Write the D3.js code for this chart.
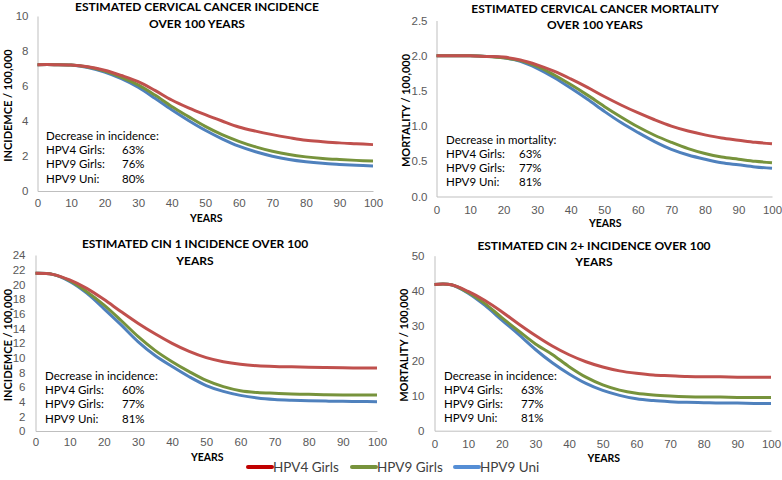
<!DOCTYPE html>
<html>
<head>
<meta charset="utf-8">
<script src="https://cdn.jsdelivr.net/npm/d3@7"></script>
<style>
  body { margin: 0; background: #fff; }
  svg { display: block; font-family: Lato, "Open Sans", sans-serif; }
  .tick text { fill: #595959; font-size: 11.5px; }
  .domain { stroke: #bfbfbf; }
</style>
</head>
<body>
<svg id="chart"></svg>
<script>
let width = 782
let height = 480

let years = [0, 5, 10, 15, 20, 25, 30, 35, 40, 45, 50, 55, 60, 65, 70, 75, 80, 85, 90, 95, 100]
let seriesNames = ['HPV4 Girls', 'HPV9 Girls', 'HPV9 Uni']
let xTicks = [0, 10, 20, 30, 40, 50, 60, 70, 80, 90, 100]

// cervical cancer incidence
let ccIncHpv4 = [7.22, 7.22, 7.2, 7.1, 6.9, 6.6, 6.25, 5.75, 5.2, 4.75, 4.36, 4.0, 3.66, 3.42, 3.22, 3.05, 2.9, 2.82, 2.75, 2.7, 2.65]
let ccIncHpv9 = [7.22, 7.22, 7.2, 7.08, 6.85, 6.5, 6.06, 5.48, 4.83, 4.25, 3.69, 3.22, 2.84, 2.52, 2.27, 2.08, 1.95, 1.86, 1.8, 1.75, 1.71]
let ccIncUni = [7.22, 7.22, 7.2, 7.06, 6.8, 6.42, 5.93, 5.3, 4.64, 4.03, 3.47, 2.98, 2.56, 2.24, 1.99, 1.8, 1.67, 1.58, 1.52, 1.47, 1.43]
let ccIncTicks = [0, 2, 4, 6, 8, 10]
let ccIncPct = ['63%', '76%', '80%']

// cervical cancer mortality
let ccMortHpv4 = [2.0, 2.0, 2.0, 1.99, 1.98, 1.94, 1.87, 1.78, 1.67, 1.55, 1.42, 1.3, 1.19, 1.09, 1.0, 0.93, 0.875, 0.83, 0.8, 0.77, 0.75]
let ccMortHpv9 = [2.0, 2.0, 2.0, 1.99, 1.97, 1.93, 1.85, 1.73, 1.59, 1.44, 1.28, 1.13, 0.99, 0.87, 0.77, 0.68, 0.61, 0.56, 0.53, 0.5, 0.48]
let ccMortUni = [2.0, 2.0, 2.0, 1.99, 1.97, 1.92, 1.82, 1.69, 1.54, 1.38, 1.21, 1.05, 0.91, 0.78, 0.67, 0.59, 0.53, 0.48, 0.45, 0.42, 0.4]
let ccMortTicks = [0, 0.5, 1.0, 1.5, 2.0, 2.5]
let ccMortPct = ['63%', '77%', '81%']

// CIN 1 incidence
let cin1Hpv4 = [21.5, 21.36, 20.6, 19.45, 17.95, 16.3, 14.7, 13.25, 11.95, 10.85, 10.0, 9.45, 9.1, 8.9, 8.8, 8.75, 8.7, 8.65, 8.62, 8.6, 8.6]
let cin1Hpv9 = [21.5, 21.36, 20.5, 19.0, 17.2, 15.1, 12.9, 11.0, 9.45, 8.1, 6.9, 6.05, 5.5, 5.25, 5.14, 5.05, 5.0, 4.95, 4.92, 4.9, 4.9]
let cin1Uni = [21.5, 21.36, 20.4, 18.8, 16.7, 14.5, 12.2, 10.3, 8.8, 7.4, 6.2, 5.4, 4.86, 4.5, 4.3, 4.2, 4.14, 4.08, 4.05, 4.02, 4.0]
let cin1Ticks = [0, 2, 4, 6, 8, 10, 12, 14, 16, 18, 20, 22, 24]
let cin1Pct = ['60%', '77%', '81%']

// CIN 2+ incidence
let cin2Hpv4 = [41.8, 41.7, 39.8, 37.2, 34.0, 30.5, 27.2, 24.2, 21.7, 19.7, 18.2, 17.1, 16.4, 15.9, 15.7, 15.5, 15.4, 15.4, 15.3, 15.3, 15.3]
let cin2Hpv9 = [41.8, 41.7, 39.5, 36.3, 32.3, 28.5, 24.8, 21.8, 18.3, 15.3, 13.1, 11.6, 10.7, 10.2, 9.9, 9.7, 9.6, 9.6, 9.5, 9.5, 9.5]
let cin2Uni = [41.8, 41.7, 39.3, 35.8, 31.6, 27.5, 23.2, 19.4, 16.2, 13.5, 11.5, 10.1, 9.1, 8.6, 8.3, 8.1, 8.0, 7.9, 7.9, 7.8, 7.8]
let cin2Ticks = [0, 10, 20, 30, 40, 50]
let cin2Pct = ['63%', '77%', '81%']

let lineColors = ['#c0504d', '#77933c', '#4f81bd']
let legendColors = ['#c00000', '#77933c', '#558ed5']

let panels = [
    { title: ['ESTIMATED CERVICAL CANCER INCIDENCE', 'OVER 100 YEARS'], yLabel: 'INCIDEMCE / 100,000',
      series: [ccIncHpv4, ccIncHpv9, ccIncUni], ticks: ccIncTicks, fmt: d3.format('d'),
      note: 'Decrease in incidence:', pct: ccIncPct,
      left: 37.5, right: 373, top: 16, bottom: 191, titleY: 11, titleX: 197, yearsY: 222, xLabY: 208,
      yLabX: 12, noteX: 46, noteY: 140, pctX: 122, yPad: 9 },
    { title: ['ESTIMATED CERVICAL CANCER MORTALITY', 'OVER 100 YEARS'], yLabel: 'MORTALITY / 100,000',
      series: [ccMortHpv4, ccMortHpv9, ccMortUni], ticks: ccMortTicks, fmt: d3.format('.1f'),
      note: 'Decrease in mortality:', pct: ccMortPct,
      left: 436.5, right: 772, top: 20.5, bottom: 196.5, titleY: 12.5, titleX: 595, yearsY: 226.5, xLabY: 214.5,
      yLabX: 410, noteX: 446, noteY: 143.5, pctX: 519, yPad: 9 },
    { title: ['ESTIMATED CIN 1 INCIDENCE OVER 100', 'YEARS'], yLabel: 'INCIDEMCE / 100,000',
      series: [cin1Hpv4, cin1Hpv9, cin1Uni], ticks: cin1Ticks, fmt: d3.format('d'),
      note: 'Decrease in incidence:', pct: cin1Pct,
      left: 35.5, right: 377, top: 255, bottom: 431, titleY: 248, titleX: 195, yearsY: 461, xLabY: 447,
      yLabX: 12, noteX: 45, noteY: 380, pctX: 122, yPad: 10 },
    { title: ['ESTIMATED CIN 2+ INCIDENCE OVER 100', 'YEARS'], yLabel: 'MORTALITY / 100,000',
      series: [cin2Hpv4, cin2Hpv9, cin2Uni], ticks: cin2Ticks, fmt: d3.format('d'),
      note: 'Decrease in incidence:', pct: cin2Pct,
      left: 434.5, right: 771, top: 255.7, bottom: 430.7, titleY: 249.5, titleX: 594, yearsY: 462, xLabY: 449,
      yLabX: 408, noteX: 444, noteY: 379.5, pctX: 521, yPad: 10 }
]

let svg = d3.select('#chart')
    .attr('width', width)
    .attr('height', height)

let drawPanel = (p) => {
    let g = svg.append('g')
    let xScale = d3.scaleLinear().domain([0, 100]).range([p.left, p.right])
    let yScale = d3.scaleLinear().domain([0, d3.max(p.ticks)]).range([p.bottom, p.top])

    let yAxis = d3.axisLeft(yScale)
        .tickValues(p.ticks)
        .tickFormat(p.fmt)
        .tickSize(0)
        .tickPadding(p.yPad)
    g.append('g')
        .attr('transform', 'translate(' + p.left + ',0)')
        .call(yAxis)

    let xAxis = d3.axisBottom(xScale)
        .tickValues(xTicks)
        .tickSize(0)
        .tickPadding(p.xLabY - p.bottom - 9)
    g.append('g')
        .attr('transform', 'translate(0,' + p.bottom + ')')
        .call(xAxis)

    let line = d3.line()
        .x((d, i) => xScale(years[i]))
        .y((d) => yScale(d))
        .curve(d3.curveCatmullRom.alpha(0.5))

    // draw HPV9 uni first so red ends on top
    ;[2, 1, 0].forEach((k) => {
        g.append('path')
            .datum(p.series[k])
            .attr('d', line)
            .attr('fill', 'none')
            .attr('stroke', lineColors[k])
            .attr('stroke-width', 3)
            .attr('stroke-linejoin', 'round')
    })

    g.selectAll('.title')
        .data(p.title)
        .enter()
        .append('text')
        .attr('x', p.titleX)
        .attr('y', (d, i) => p.titleY + i * 16.8)
        .attr('text-anchor', 'middle')
        .attr('font-weight', 'bold')
        .attr('font-size', 12)
        .attr('fill', '#000')
        .text((d) => d)

    g.append('text')
        .attr('transform', 'translate(' + p.yLabX + ',' + ((p.top + p.bottom) / 2 + 2) + ') rotate(-90)')
        .attr('text-anchor', 'middle')
        .attr('font-weight', 'bold')
        .attr('font-size', 11)
        .attr('fill', '#000')
        .text(p.yLabel)

    g.append('text')
        .attr('x', (p.left + p.right) / 2 + 1)
        .attr('y', p.yearsY)
        .attr('text-anchor', 'middle')
        .attr('font-weight', 'bold')
        .attr('font-size', 10.5)
        .attr('fill', '#000')
        .text('YEARS')

    g.append('text')
        .attr('x', p.noteX)
        .attr('y', p.noteY)
        .attr('font-size', 11.5)
        .attr('fill', '#000')
        .text(p.note)

    seriesNames.forEach((name, i) => {
        g.append('text')
            .attr('x', p.noteX)
            .attr('y', p.noteY + (i + 1) * 14.2)
            .attr('font-size', 11.5)
            .attr('fill', '#000')
            .text(name + ':')
        g.append('text')
            .attr('x', p.pctX)
            .attr('y', p.noteY + (i + 1) * 14.2)
            .attr('font-size', 11.5)
            .attr('fill', '#000')
            .text(p.pct[i])
    })
}

panels.forEach(drawPanel)

// legend
let legendX = [248, 352, 455]
let legend = svg.append('g')
seriesNames.forEach((name, i) => {
    legend.append('line')
        .attr('x1', legendX[i])
        .attr('x2', legendX[i] + 24)
        .attr('y1', 467)
        .attr('y2', 467)
        .attr('stroke', legendColors[i])
        .attr('stroke-width', 4)
        .attr('stroke-linecap', 'round')
    legend.append('text')
        .attr('x', legendX[i] + 25)
        .attr('y', 472)
        .attr('font-size', 13.5)
        .attr('fill', '#404040')
        .text(name)
})
</script>
</body>
</html>
